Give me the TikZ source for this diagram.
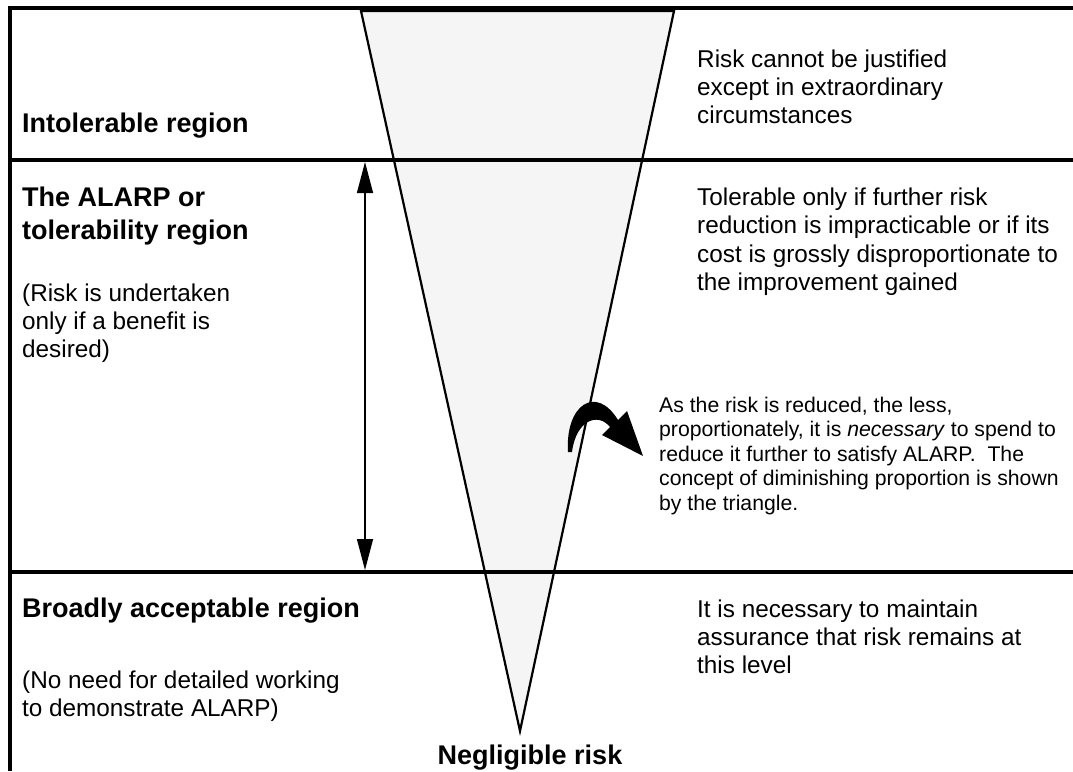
\documentclass[tikz,border=0pt]{standalone}
\usepackage{fontspec}
\setmainfont{Liberation Sans}
\usetikzlibrary{arrows.meta}

\tikzset{
  rule/.style={line width=3.4pt},
  funnel/.style={line width=2.2pt, line join=miter, fill=black!4},
  heading/.style={font=\fontsize{27}{33}\selectfont\bfseries, align=left, anchor=north west, inner sep=0pt},
  remark/.style={font=\fontsize{24.3}{28.3}\selectfont, align=left, anchor=north west, inner sep=0pt},
  smallnote/.style={font=\fontsize{21.2}{24.5}\selectfont, align=left, anchor=north west, inner sep=0pt},
}

\begin{document}
\begin{tikzpicture}[x=1pt, y=-1pt]
\useasboundingbox (0,0) rectangle (1073,771);
% The triangle
\coordinate (toplt) at (361,11);
\coordinate (toprt) at (674,11);
\coordinate (apex) at (520,731);
\draw[funnel] (toplt) -- (toprt) -- (apex) -- cycle;
% The frame
\coordinate (nw) at (10,8);
\coordinate (ne) at (1073,8);
\coordinate (sw) at (10,771);
\coordinate (w1) at (10,160);
\coordinate (e1) at (1073,160);
\coordinate (w2) at (10,572);
\coordinate (e2) at (1073,572);
\draw[rule] (sw) -- (nw) -- (ne);
\draw[rule] (w1) -- (e1);
\draw[rule] (w2) -- (e2);
% The ALARP span
\coordinate (spantop) at (365,162);
\coordinate (spanbot) at (365,570);
\draw[line width=1.4pt, {Triangle[length=31pt,width=16pt]}-{Triangle[length=31pt,width=16pt]}] (spantop) -- (spanbot);
% The curved arrow
\fill (568,452) .. controls (565,405) and (596,384) .. (618,420)
  -- (627,411) -- (643,456) -- (602,435) -- (610,427)
  .. controls (598,412) and (576,420) .. (572,452) -- cycle;
% Left column
\node[heading, anchor=base west] (intol) at (22,132) {Intolerable region};
\node[heading] (alarp) at (22,186.8) {The ALARP or\\tolerability region};
\node[remark] (alarpnote) at (22,283.3) {(Risk is undertaken\\only if a benefit is\\desired)};
\node[heading, anchor=base west] (broad) at (22,617) {Broadly acceptable region};
\node[remark] (broadnote) at (22,670.3) {(No need for detailed working\\to demonstrate ALARP)};
% Right column
\node[remark] (intolnote) at (697,49.3) {Risk cannot be justified\\except in extraordinary\\circumstances};
\node[remark] (tolnote) at (697,187.8) {Tolerable only if further risk\\reduction is impracticable or if its\\cost is grossly disproportionate to\\the improvement gained};
\node[smallnote] (diminish) at (659,396.5) {As the risk is reduced, the less,\\proportionately, it is \textit{necessary} to spend to\\reduce it further to satisfy ALARP.\ \ The\\concept of diminishing proportion is shown\\by the triangle.};
\node[remark] (broadright) at (697,599.3) {It is necessary to maintain\\assurance that risk remains at\\this level};
% Bottom
\node[heading, anchor=base] (neglig) at (530,764.5) {Negligible risk};
\end{tikzpicture}
\end{document}
